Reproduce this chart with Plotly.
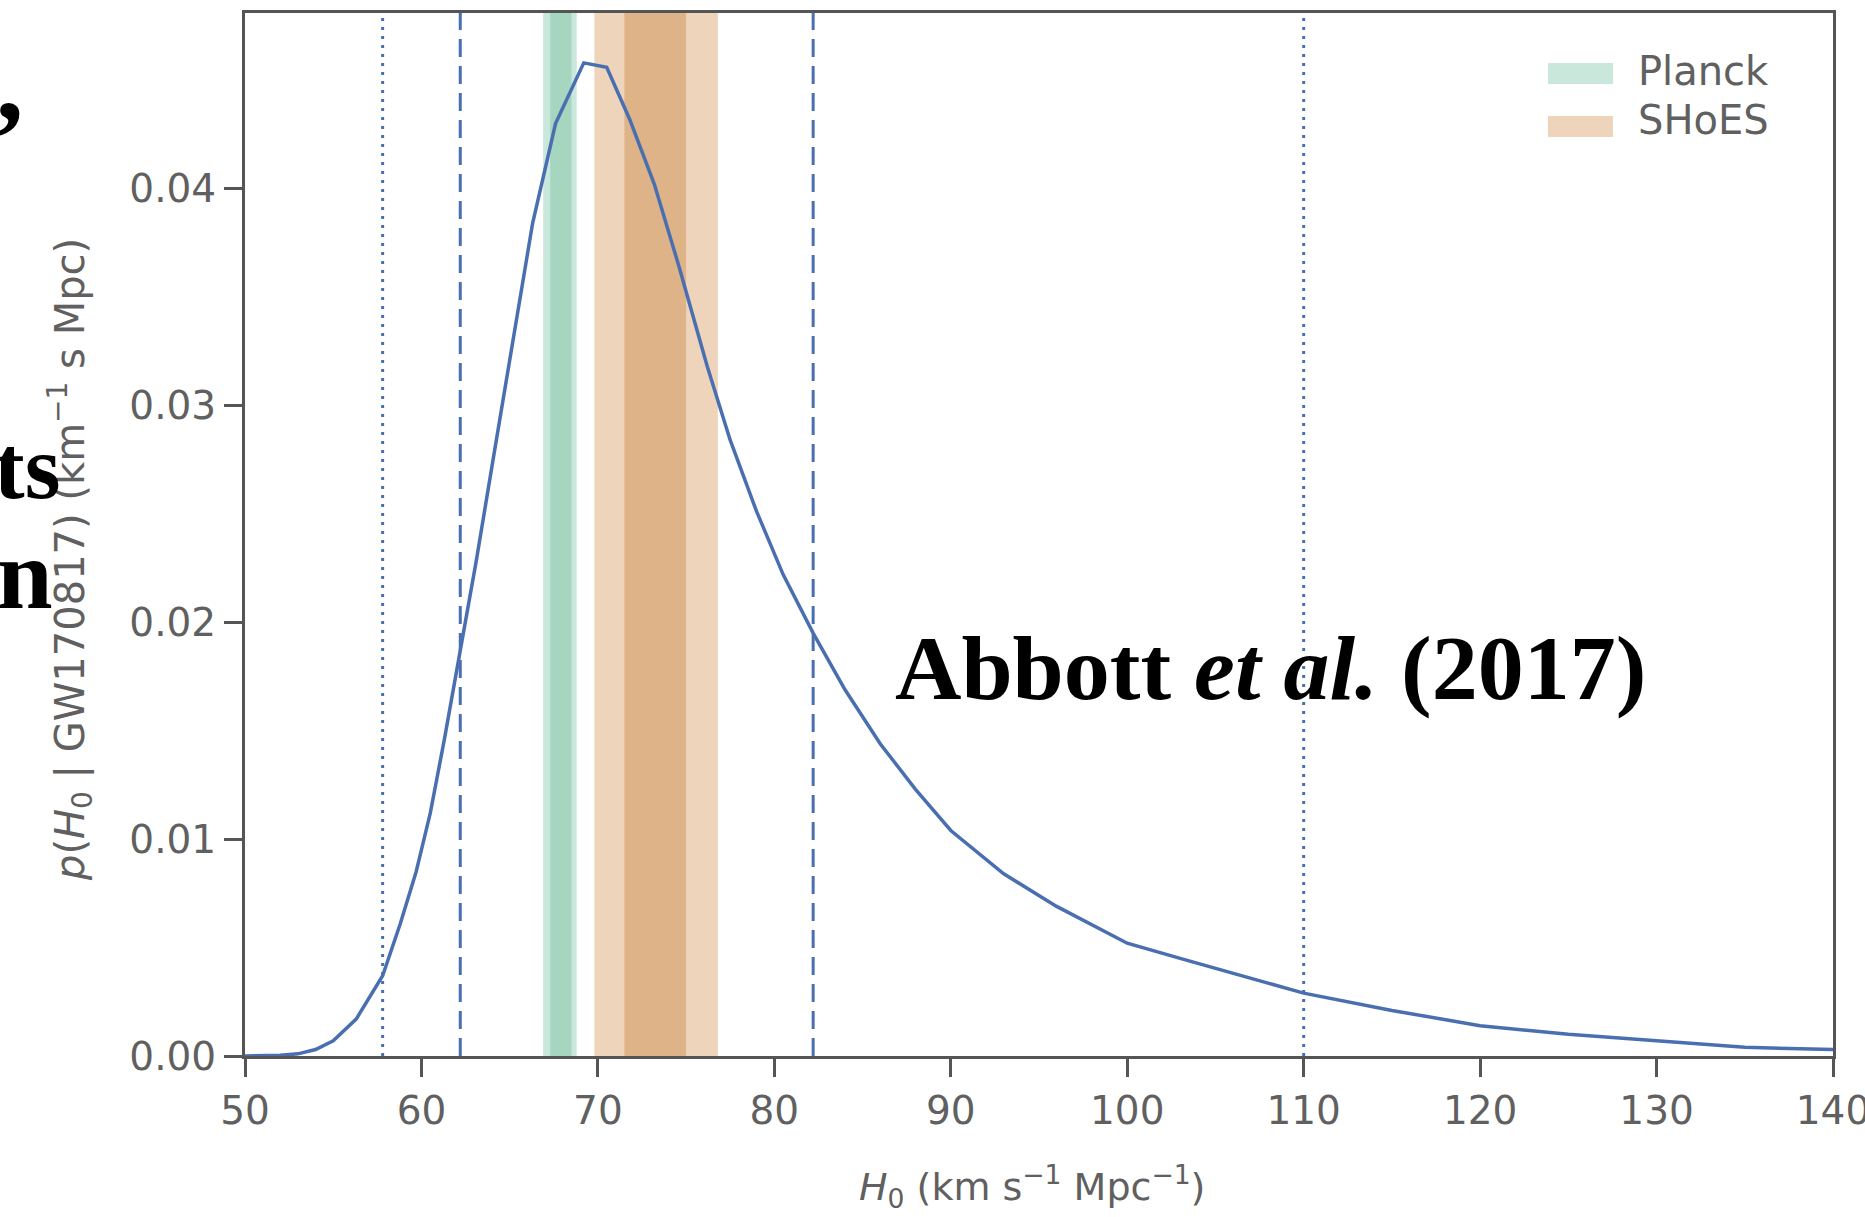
import plotly.graph_objects as go

# Posterior on the Hubble constant from GW170817
h0 = [50, 52, 53, 54, 55, 56.3, 57.8, 58.8, 59.7, 60.5, 61.3, 62.2, 63.1, 64.1,
      65.1, 66.3, 67.6, 69.2, 70.5, 71.8, 73.2, 74.6, 76.2, 77.5, 79, 80.5, 82.2,
      84, 86, 88, 90, 93, 96, 100, 103, 106, 110, 115, 120, 125, 130, 132, 135, 140]
posterior = [0.0, 0.00003, 0.0001, 0.0003, 0.0007, 0.0017, 0.0037, 0.0061, 0.0085,
             0.0112, 0.0146, 0.0186, 0.0228, 0.0277, 0.0326, 0.0384, 0.0430, 0.0458,
             0.0456, 0.0432, 0.0402, 0.0364, 0.0318, 0.0284, 0.0251, 0.0222, 0.0195,
             0.0169, 0.0144, 0.0123, 0.0104, 0.0084, 0.0069, 0.0052, 0.0045, 0.0038,
             0.0029, 0.0021, 0.0014, 0.0010, 0.0007, 0.0006, 0.0004, 0.0003]

# Credible intervals: 68.3% (dashed) and 95.4% (dotted)
interval_68 = [62.2, 82.2]
interval_95 = [57.8, 110.0]

# Reference measurements: (1-sigma low, high), (2-sigma low, high)
planck_1s = [67.3, 68.5]
planck_2s = [66.9, 68.8]
shoes_1s = [71.5, 75.0]
shoes_2s = [69.8, 76.8]

x_ticks = [50, 60, 70, 80, 90, 100, 110, 120, 130, 140]
y_ticks = [0.00, 0.01, 0.02, 0.03, 0.04]
y_tick_text = [f"{v:.2f}" for v in y_ticks]

BLUE = "#4a6fb0"
AXIS = "#555555"
TEXT = "#606060"
PLANCK_LIGHT, PLANCK_DARK = "#c9e7da", "#a6d5c0"
SHOES_LIGHT, SHOES_DARK = "#efd4bc", "#deb387"

fig = go.Figure()
fig.add_trace(go.Scatter(x=h0, y=posterior, mode="lines",
                         line=dict(color=BLUE, width=3.5), showlegend=False))

shapes = []
for (lo, hi), col in [(planck_2s, PLANCK_LIGHT), (planck_1s, PLANCK_DARK),
                      (shoes_2s, SHOES_LIGHT), (shoes_1s, SHOES_DARK)]:
    shapes.append(dict(type="rect", xref="x", yref="paper", x0=lo, x1=hi, y0=0, y1=1,
                       fillcolor=col, line=dict(width=0), layer="below"))
for xv in interval_68:
    shapes.append(dict(type="line", xref="x", yref="paper", x0=xv, x1=xv, y0=0, y1=1,
                       line=dict(color=BLUE, width=3, dash="18px,9px"), layer="below"))
for xv in interval_95:
    shapes.append(dict(type="line", xref="x", yref="paper", x0=xv, x1=xv, y0=0, y1=1,
                       line=dict(color=BLUE, width=3, dash="3px,6px"), layer="below"))

# Legend patches (paper coordinates)
W, H = 1865, 1217
L, R, T, B = 245, 32, 13, 161
pw, ph = W - L - R, H - T - B


def px(xp):
    return (xp - L) / pw


def py(yp):
    return (H - B - yp) / ph


shapes.append(dict(type="rect", xref="paper", yref="paper", x0=px(1548), x1=px(1613),
                   y0=py(84), y1=py(63), fillcolor=PLANCK_LIGHT, line=dict(width=0)))
shapes.append(dict(type="rect", xref="paper", yref="paper", x0=px(1548), x1=px(1613),
                   y0=py(137), y1=py(116), fillcolor=SHOES_LIGHT, line=dict(width=0)))

annotations = [
    dict(text="Planck", x=px(1636), y=py(71), xref="paper", yref="paper",
         xanchor="left", yanchor="middle", showarrow=False,
         font=dict(family="DejaVu Sans", size=40, color=TEXT)),
    dict(text="SHoES", x=px(1636), y=py(120), xref="paper", yref="paper",
         xanchor="left", yanchor="middle", showarrow=False,
         font=dict(family="DejaVu Sans", size=40, color=TEXT)),
    dict(text="<i>H</i><sub>0</sub> (km s<sup>−1</sup> Mpc<sup>−1</sup>)",
         x=px(1032), y=py(1186), xref="paper", yref="paper",
         xanchor="center", yanchor="middle", showarrow=False,
         font=dict(family="DejaVu Sans", size=38, color=TEXT)),
    dict(text="<i>p</i>(<i>H</i><sub>0</sub> | GW170817) (km<sup>−1</sup> s Mpc)",
         x=px(70), y=py(560), xref="paper", yref="paper", textangle=-90,
         xanchor="center", yanchor="middle", showarrow=False,
         font=dict(family="DejaVu Sans", size=40, color=TEXT)),
    dict(text="<b>Abbott <i>et al.</i> (2017)</b>", x=px(1270), y=py(668),
         xref="paper", yref="paper", xanchor="center", yanchor="middle", showarrow=False,
         font=dict(family="Liberation Serif", size=92, color="black")),
    dict(text="<b>,</b>", x=px(26), y=py(82), xref="paper", yref="paper",
         xanchor="right", yanchor="middle", showarrow=False,
         font=dict(family="Liberation Serif", size=110, color="black")),
    dict(text="<b>ts</b>", x=px(62), y=py(467), xref="paper", yref="paper",
         xanchor="right", yanchor="middle", showarrow=False,
         font=dict(family="Liberation Serif", size=92, color="black")),
    dict(text="<b>n</b>", x=px(55), y=py(574), xref="paper", yref="paper",
         xanchor="right", yanchor="middle", showarrow=False,
         font=dict(family="Liberation Serif", size=100, color="black")),
]

axis_common = dict(showline=True, mirror=True, linecolor=AXIS, linewidth=3,
                   ticks="outside", ticklen=18, tickwidth=3, tickcolor=AXIS,
                   showgrid=False, zeroline=False, automargin=False,
                   ticklabeloverflow="allow",
                   tickfont=dict(family="DejaVu Sans", size=39, color=TEXT))

fig.update_layout(
    width=W, height=H, autosize=False,
    margin=dict(l=L, r=R, t=T, b=B, pad=0, autoexpand=False),
    plot_bgcolor="white", paper_bgcolor="white",
    shapes=shapes, annotations=annotations, showlegend=False,
    xaxis=dict(range=[50, 140], tickvals=x_ticks, **axis_common),
    yaxis=dict(range=[0, 0.0481], tickvals=y_ticks, ticktext=y_tick_text, **axis_common),
)

fig.write_html("out.html")
